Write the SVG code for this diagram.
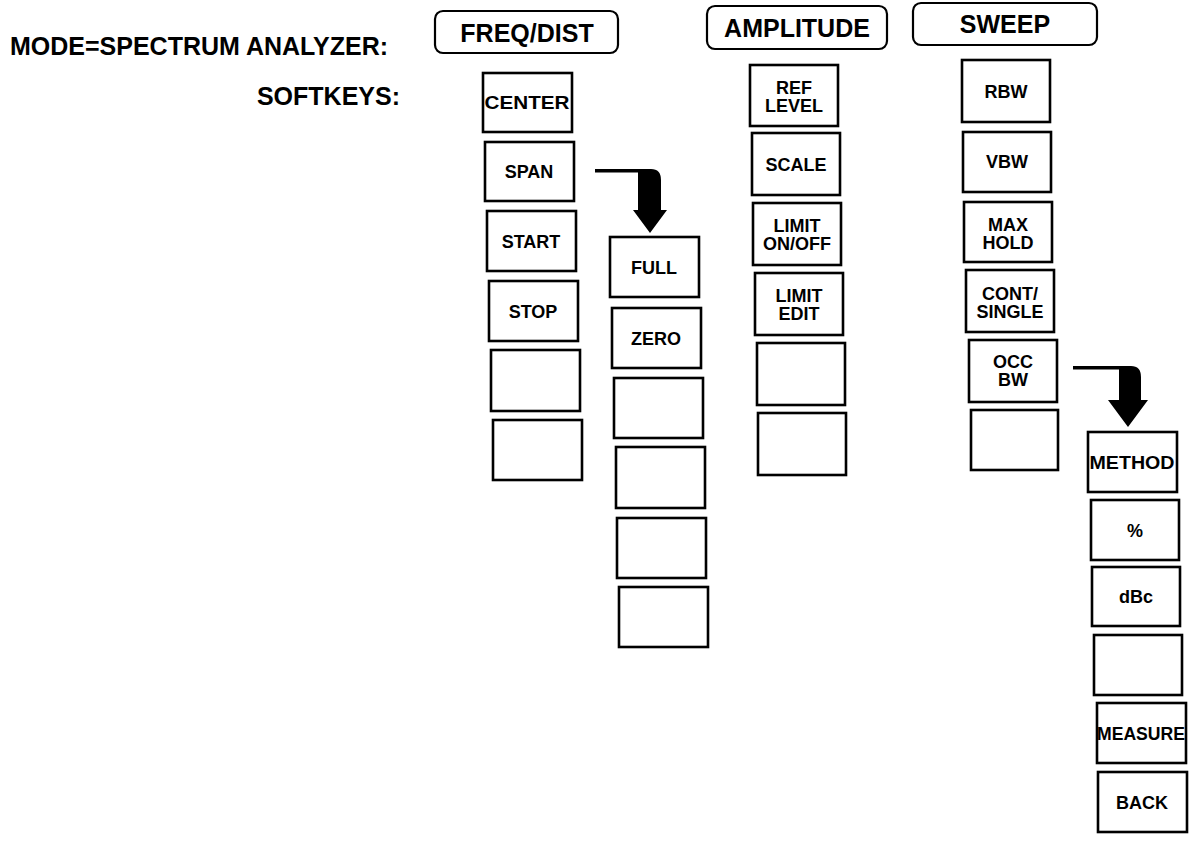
<svg xmlns="http://www.w3.org/2000/svg" width="1192" height="856" viewBox="0 0 1192 856">
<style>
  text { font-family: "Liberation Sans", Arial, sans-serif; font-weight: bold; fill: #000; }
  .hdr { font-size: 25px; text-anchor: middle; }
  .ttl { font-size: 25px; }
  .lbl { font-size: 18px; text-anchor: middle; }
  .hbox { fill: #fff; stroke: #000; stroke-width: 2.2; }
  .key { fill: #fff; stroke: #000; stroke-width: 2.6; }
  .arr { fill: #000; stroke: none; }
</style>
<rect width="1192" height="856" fill="#fff"/>

<g id="title">
  <text class="ttl" x="10" y="55">MODE=SPECTRUM ANALYZER:</text>
  <text class="ttl" x="400" y="105" text-anchor="end">SOFTKEYS:</text>
</g>

<g id="hdr-freq"><rect class="hbox" x="435" y="11" width="183" height="42" rx="8"/><text class="hdr" x="527" y="42">FREQ/DIST</text></g>
<g id="hdr-amp"><rect class="hbox" x="707" y="6" width="180" height="43" rx="8"/><text class="hdr" x="797" y="37">AMPLITUDE</text></g>
<g id="hdr-sweep"><rect class="hbox" x="913" y="3" width="184" height="42" rx="8"/><text class="hdr" x="1005" y="33">SWEEP</text></g>

<!-- FREQ/DIST softkeys -->
<g id="k-center"><rect class="key" x="483" y="73" width="89" height="59"/><text class="lbl" x="527" y="109" textLength="85" lengthAdjust="spacingAndGlyphs">CENTER</text></g>
<g id="k-span"><rect class="key" x="485" y="142" width="89" height="59"/><text class="lbl" x="529" y="178">SPAN</text></g>
<g id="k-start"><rect class="key" x="487" y="211" width="89" height="60"/><text class="lbl" x="531" y="248">START</text></g>
<g id="k-stop"><rect class="key" x="489" y="281" width="89" height="60"/><text class="lbl" x="533" y="318">STOP</text></g>
<g id="k-f5"><rect class="key" x="491" y="350" width="89" height="61"/></g>
<g id="k-f6"><rect class="key" x="493" y="420" width="89" height="60"/></g>

<!-- SPAN submenu -->
<g id="k-full"><rect class="key" x="610" y="237" width="89" height="60"/><text class="lbl" x="654" y="274">FULL</text></g>
<g id="k-zero"><rect class="key" x="612" y="308" width="89" height="60"/><text class="lbl" x="656" y="345">ZERO</text></g>
<g id="k-s3"><rect class="key" x="614" y="378" width="89" height="60"/></g>
<g id="k-s4"><rect class="key" x="616" y="447" width="89" height="61"/></g>
<g id="k-s5"><rect class="key" x="617" y="518" width="89" height="60"/></g>
<g id="k-s6"><rect class="key" x="619" y="587" width="89" height="60"/></g>

<!-- AMPLITUDE softkeys -->
<g id="k-ref"><rect class="key" x="750" y="65" width="88" height="61"/><text class="lbl" x="794" y="94">REF</text><text class="lbl" x="794" y="112">LEVEL</text></g>
<g id="k-scale"><rect class="key" x="752" y="133" width="88" height="62"/><text class="lbl" x="796" y="171">SCALE</text></g>
<g id="k-limit"><rect class="key" x="753" y="203" width="88" height="62"/><text class="lbl" x="797" y="232">LIMIT</text><text class="lbl" x="797" y="250">ON/OFF</text></g>
<g id="k-limedit"><rect class="key" x="755" y="273" width="88" height="62"/><text class="lbl" x="799" y="302">LIMIT</text><text class="lbl" x="799" y="320">EDIT</text></g>
<g id="k-a5"><rect class="key" x="757" y="343" width="88" height="62"/></g>
<g id="k-a6"><rect class="key" x="758" y="413" width="88" height="62"/></g>

<!-- SWEEP softkeys -->
<g id="k-rbw"><rect class="key" x="962" y="60" width="88" height="62"/><text class="lbl" x="1006" y="98">RBW</text></g>
<g id="k-vbw"><rect class="key" x="963" y="132" width="88" height="60"/><text class="lbl" x="1007" y="168">VBW</text></g>
<g id="k-max"><rect class="key" x="964" y="202" width="88" height="60"/><text class="lbl" x="1008" y="231">MAX</text><text class="lbl" x="1008" y="249">HOLD</text></g>
<g id="k-cont"><rect class="key" x="966" y="270" width="88" height="62"/><text class="lbl" x="1010" y="300">CONT/</text><text class="lbl" x="1010" y="318">SINGLE</text></g>
<g id="k-occ"><rect class="key" x="969" y="340" width="88" height="62"/><text class="lbl" x="1013" y="368">OCC</text><text class="lbl" x="1013" y="386">BW</text></g>
<g id="k-w6"><rect class="key" x="971" y="410" width="87" height="60"/></g>

<!-- OCC BW submenu -->
<g id="k-method"><rect class="key" x="1088" y="432" width="89" height="60"/><text class="lbl" x="1132" y="469" textLength="85" lengthAdjust="spacingAndGlyphs">METHOD</text></g>
<g id="k-pct"><rect class="key" x="1091" y="500" width="88" height="60"/><text class="lbl" x="1135" y="537">%</text></g>
<g id="k-dbc"><rect class="key" x="1092" y="567" width="88" height="59"/><text class="lbl" x="1136" y="603">dBc</text></g>
<g id="k-o4"><rect class="key" x="1094" y="635" width="88" height="60"/></g>
<g id="k-measure"><rect class="key" x="1097" y="703" width="89" height="60"/><text class="lbl" x="1141" y="740" textLength="88" lengthAdjust="spacingAndGlyphs">MEASURE</text></g>
<g id="k-back"><rect class="key" x="1098" y="772" width="89" height="60"/><text class="lbl" x="1142" y="809">BACK</text></g>

<g id="connectors">
  <path class="arr" d="M595,169 H651 Q661,169 661,180 V210 H667 L650,233 L633,210 H638 V172.5 H595 Z"/>
  <path class="arr" d="M1073,366 H1131 Q1141,366 1141,377 V400 H1148 L1128,427 L1108,400 H1119 V369.5 H1073 Z"/>
</g>
</svg>
